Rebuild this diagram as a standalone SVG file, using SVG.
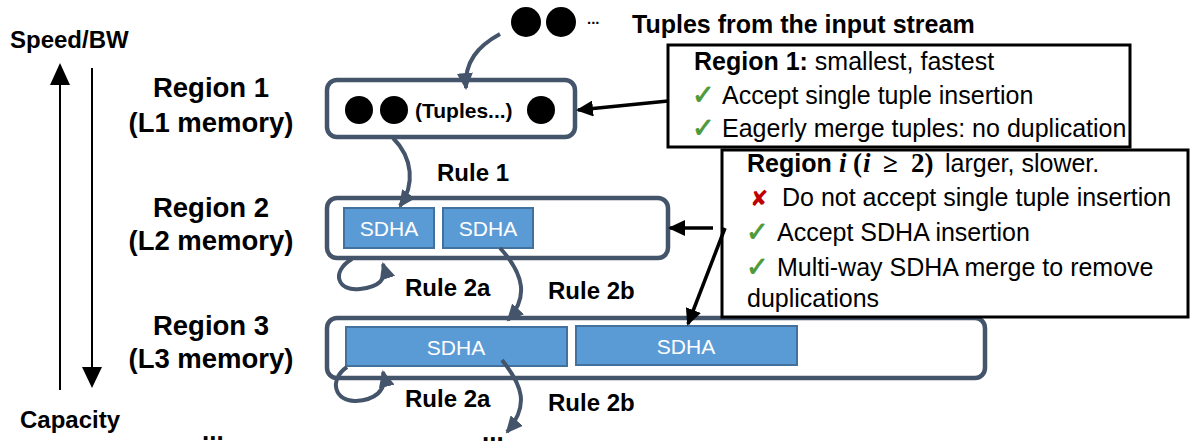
<svg xmlns="http://www.w3.org/2000/svg" width="1191" height="447" viewBox="0 0 1191 447">
  <style>
    text { font-family: "Liberation Sans", Arial, sans-serif; fill: #000; }
    .b { font-weight: bold; }
    .lbl { font-size: 27.5px; font-weight: bold; text-anchor: middle; }
    .axis { font-size: 24px; font-weight: bold; }
    .rule { font-size: 24px; font-weight: bold; }
    .note { font-size: 25px; }
    .math { font-family: "Liberation Serif", "DejaVu Serif", serif; font-weight: bold; font-size: 27px; }
    .ok { font-family: "DejaVu Sans", sans-serif; fill: #4E9A3A; stroke: #4E9A3A; stroke-width: 0.9; font-size: 27px; }
    .no { font-family: "DejaVu Sans", sans-serif; fill: #C00000; font-size: 22px; font-weight: bold; }
    .region { fill: #fff; stroke: #44546A; stroke-width: 4.5; }
    .sdha { fill: #5B9BD5; stroke: #41719C; stroke-width: 2; }
    .sdha-t { fill: #fff; font-size: 21px; text-anchor: middle; }
    .flow { fill: none; stroke: #44546A; stroke-width: 4; marker-end: url(#head-slate); }
    .ptr { fill: none; stroke: #000; stroke-width: 3.5; marker-end: url(#head-black); }
    .callout { fill: #fff; stroke: #000; stroke-width: 3; }
    .dot { fill: #000; }
  </style>
  <defs>
    <marker id="head-slate" markerUnits="userSpaceOnUse" markerWidth="18" markerHeight="16" refX="15" refY="8" orient="auto">
      <path d="M0,0 L17,8 L0,16 z" fill="#44546A"/>
    </marker>
    <marker id="head-black" markerUnits="userSpaceOnUse" markerWidth="18" markerHeight="16" refX="15" refY="8" orient="auto">
      <path d="M0,0 L17,8 L0,16 z" fill="#000"/>
    </marker>
  </defs>

  <!-- speed / capacity axis -->
  <g id="axis">
    <text class="axis" x="10" y="48">Speed/BW</text>
    <text class="axis" x="20" y="428">Capacity</text>
    <line x1="60" y1="390" x2="60" y2="82" stroke="#000" stroke-width="2"/>
    <path d="M50,85 L60,63 L70,85 z" fill="#000"/>
    <line x1="92" y1="68" x2="92" y2="370" stroke="#000" stroke-width="2"/>
    <path d="M82,367 L92,388 L102,367 z" fill="#000"/>
  </g>

  <!-- region labels -->
  <g id="labels">
    <text class="lbl" x="211" y="97">Region 1</text>
    <text class="lbl" x="211" y="132">(L1 memory)</text>
    <text class="lbl" x="211" y="217">Region 2</text>
    <text class="lbl" x="211" y="250">(L2 memory)</text>
    <text class="lbl" x="211" y="335">Region 3</text>
    <text class="lbl" x="211" y="368">(L3 memory)</text>
    <text class="b" x="202" y="440" font-size="26">...</text>
    <text class="b" x="482" y="441" font-size="26">...</text>
  </g>

  <!-- incoming tuples -->
  <g id="input">
    <circle class="dot" cx="526" cy="22" r="15"/>
    <circle class="dot" cx="561" cy="22" r="15"/>
    <text class="b" x="587" y="24" font-size="15">...</text>
    <text class="b" x="632" y="33" font-size="25">Tuples from the input stream</text>
  </g>

  <!-- region 1 -->
  <g id="region1">
    <rect class="region" x="327" y="80" width="248" height="57" rx="10"/>
    <circle class="dot" cx="359" cy="110" r="14"/>
    <circle class="dot" cx="394" cy="110" r="14"/>
    <text class="b" x="415" y="118" font-size="21">(Tuples...)</text>
    <circle class="dot" cx="541" cy="110" r="14"/>
  </g>

  <!-- region 2 -->
  <g id="region2">
    <rect class="region" x="327" y="198" width="341" height="60" rx="10"/>
    <rect class="sdha" x="344" y="208" width="90" height="40"/>
    <text class="sdha-t" x="389" y="236">SDHA</text>
    <rect class="sdha" x="443" y="208" width="90" height="40"/>
    <text class="sdha-t" x="488" y="236">SDHA</text>
  </g>

  <!-- region 3 -->
  <g id="region3">
    <rect class="region" x="327" y="318" width="658" height="60" rx="10"/>
    <rect class="sdha" x="346" y="327" width="221" height="39"/>
    <text class="sdha-t" x="456" y="355">SDHA</text>
    <rect class="sdha" x="576" y="326" width="221" height="39"/>
    <text class="sdha-t" x="686" y="354">SDHA</text>
  </g>

  <!-- region 1 properties -->
  <g id="note1">
    <rect class="callout" x="668" y="45" width="462" height="102"/>
    <text class="note" x="694" y="70"><tspan class="b">Region 1:</tspan> smallest, fastest</text>
    <text class="ok" x="692" y="104">✓</text>
    <text class="note" x="722" y="104">Accept single tuple insertion</text>
    <text class="ok" x="692" y="137">✓</text>
    <text class="note" x="722" y="137">Eagerly merge tuples: no duplication</text>
  </g>

  <!-- region i properties -->
  <g id="note2">
    <rect class="callout" x="722" y="150" width="466" height="167"/>
    <text class="note" y="172"><tspan class="b" x="747">Region</tspan><tspan class="math" font-style="italic" x="839">i</tspan><tspan class="math" x="853">(</tspan><tspan class="math" font-style="italic" x="863">i</tspan><tspan class="math" x="883">≥</tspan><tspan class="math" x="911">2)</tspan><tspan x="945">larger, slower.</tspan></text>
    <text class="no" x="750" y="206">✘</text>
    <text class="note" x="782" y="206">Do not accept single tuple insertion</text>
    <text class="ok" x="746" y="241">✓</text>
    <text class="note" x="777" y="241">Accept SDHA insertion</text>
    <text class="ok" x="746" y="276">✓</text>
    <text class="note" x="777" y="276">Multi-way SDHA merge to remove</text>
    <text class="note" x="747" y="307">duplications</text>
  </g>

  <!-- connectors -->
  <g id="connectors">
    <path class="flow" d="M500,34 C478,46 464,62 466,88"/>
    <path class="flow" d="M393,138 C413,158 415,185 400,206"/>
    <path class="flow" d="M352,259 C330,272 338,292 360,289 C378,287 388,280 383,264"/>
    <path class="flow" d="M500,248 C525,275 528,298 508,320"/>
    <path class="flow" d="M347,367 C328,380 335,402 356,401 C373,400 388,392 383,372"/>
    <path class="flow" d="M502,360 C522,385 530,405 507,432"/>
    <text class="rule" x="437" y="181">Rule 1</text>
    <text class="rule" x="405" y="296">Rule 2a</text>
    <text class="rule" x="548" y="299">Rule 2b</text>
    <text class="rule" x="405" y="407">Rule 2a</text>
    <text class="rule" x="548" y="411">Rule 2b</text>
    <path class="ptr" d="M668,101 L578,110"/>
    <path class="ptr" d="M713,228 L670,228"/>
    <path class="ptr" d="M725,228 L688,324"/>
  </g>
</svg>
